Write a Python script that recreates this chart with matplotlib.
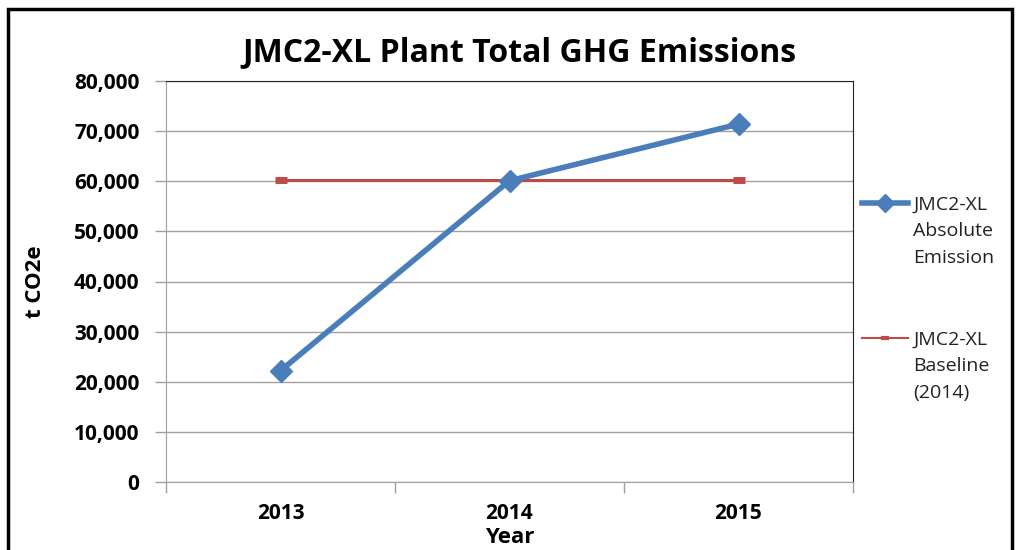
import matplotlib.pyplot as plt
from matplotlib.lines import Line2D
from matplotlib.patches import Rectangle
from matplotlib.ticker import FuncFormatter

# data
years = ["2013", "2014", "2015"]
absolute_emission = [22200, 60100, 71400]
baseline_2014 = [60300, 60300, 60300]

BLUE = "#4A7EBB"
RED = "#BE4B48"
GRID = "#A0A0A0"

plt.rcParams['font.family'] = ['Open Sans', 'DejaVu Sans']

fig = plt.figure(figsize=(10.22, 5.5), dpi=100)
ax = fig.add_axes([166 / 1022, 68 / 550, 687 / 1022, 401 / 550])

x = list(range(len(years)))
ax.plot(x, absolute_emission, color=BLUE, lw=4, marker='D', ms=11,
        solid_capstyle='round', zorder=3)
ax.plot(x, baseline_2014, color=RED, lw=2.2, marker='_', ms=9, mew=5, zorder=2)

ax.set_xlim(-0.5, 2.5)
ax.set_ylim(0, 80000)
ax.set_yticks(range(0, 80001, 10000))
ax.yaxis.set_major_formatter(FuncFormatter(lambda v, p: f"{int(v):,}"))
ax.set_xticks(x)
ax.set_xticklabels(years)
ax.set_xticks([-0.5, 0.5, 1.5, 2.5], minor=True)
ax.tick_params(axis='x', which='major', length=0, pad=15)
ax.tick_params(axis='x', which='minor', length=8, color=GRID, width=1)
ax.tick_params(axis='y', length=8, color=GRID, width=1, pad=11)
for lab in ax.get_xticklabels() + ax.get_yticklabels():
    lab.set_fontsize(15)
    lab.set_fontweight('bold')

ax.grid(axis='y', color=GRID, lw=1)
ax.set_axisbelow(True)
ax.spines['left'].set_color(GRID)
ax.spines['bottom'].set_color(GRID)
ax.spines['top'].set_color('#222222')
ax.spines['right'].set_color('#222222')

ax.set_xlabel("Year", fontsize=16, fontweight='bold', labelpad=2)
ax.set_ylabel("t CO2e", fontsize=16, fontweight='bold', labelpad=20)
fig.text(0.508, 0.905, "JMC2-XL Plant Total GHG Emissions", ha='center', va='center',
         fontsize=23, fontweight='bold')

# legend drawn by hand so the line sits beside the first text line
legend_items = [
    (BLUE, 4, 'D', 9, 0, "JMC2-XL\nAbsolute\nEmission", 203),
    (RED, 1.5, '_', 6, 3, "JMC2-XL\nBaseline\n(2014)", 338),
]
for color, lw, mk, ms, mew, label, ypix in legend_items:
    yf = 1 - ypix / 550
    fig.add_artist(Line2D([862 / 1022, 908 / 1022], [yf, yf], color=color, lw=lw))
    fig.add_artist(Line2D([885 / 1022], [yf], color=color, marker=mk, ms=ms,
                          mew=mew if mew else 1))
    fig.text(913 / 1022, yf + 7 / 550, label, ha='left', va='top',
             fontsize=14, linespacing=1.6, color='#222222')

# chart frame
fig.add_artist(Rectangle((8 / 1022, -0.05), 1004 / 1022, 1.05 - 9 / 550,
                         fill=False, ec='black', lw=2.5, transform=fig.transFigure))

fig.savefig("out.png", dpi=100)
